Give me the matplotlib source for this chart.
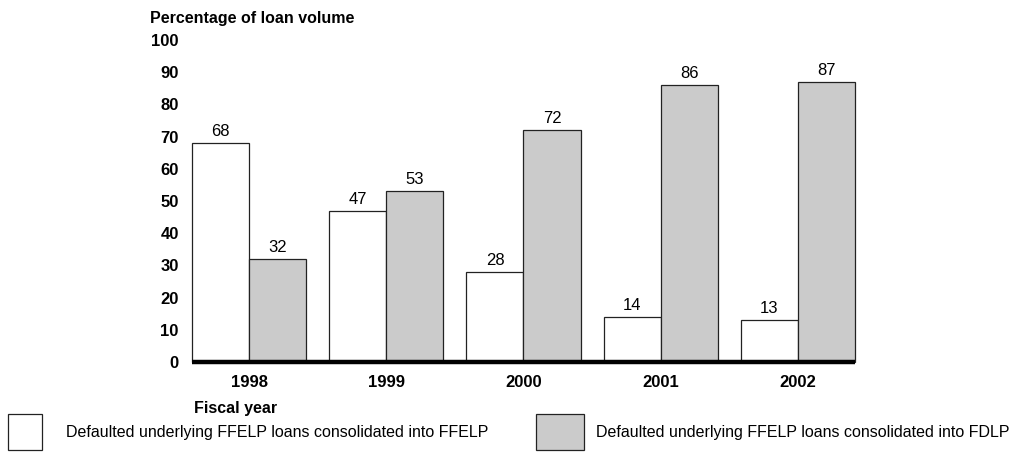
import matplotlib
matplotlib.use("Agg")
import matplotlib.pyplot as plt
import numpy as np
from matplotlib.patches import Rectangle

years = ["1998", "1999", "2000", "2001", "2002"]
ffelp = [68, 47, 28, 14, 13]
fdlp = [32, 53, 72, 86, 87]
yticks = [0, 10, 20, 30, 40, 50, 60, 70, 80, 90, 100]
legend_labels = ["Defaulted underlying FFELP loans consolidated into FFELP",
                 "Defaulted underlying FFELP loans consolidated into FDLP"]

plt.rcParams['font.family'] = ['Liberation Sans', 'DejaVu Sans']

fig = plt.figure(figsize=(10.12, 4.61), dpi=100)
ax = fig.add_axes([192/1012, 1-362/461, (855-192)/1012, (362-40)/461])

x = np.arange(len(years))
w = 0.416
gray = "#cbcbcb"
b1 = ax.bar(x - w/2, ffelp, w, color="white", edgecolor="#222222", linewidth=0.9, zorder=2, clip_on=False)
b2 = ax.bar(x + w/2, fdlp, w, color=gray, edgecolor="#222222", linewidth=0.9, zorder=2, clip_on=False)
for xi, v in zip(x - w/2, ffelp):
    ax.text(xi, v + 1.2, str(v), ha="center", va="bottom", fontsize=12)
for xi, v in zip(x + w/2, fdlp):
    ax.text(xi, v + 1.2, str(v), ha="center", va="bottom", fontsize=12)

ax.set_xlim(-w, len(years) - 1 + w)
ax.set_ylim(0, 100)
ax.set_yticks(yticks)
ax.set_yticklabels([str(t) for t in yticks], fontweight="bold", fontsize=12)
ax.set_xticks(x)
ax.set_xticklabels(years, fontweight="bold", fontsize=12)
ax.tick_params(axis="both", length=0)
ax.tick_params(axis="y", pad=9.5)
ax.tick_params(axis="x", pad=9.5)
for s in ["top", "right", "left"]:
    ax.spines[s].set_visible(False)
ax.spines["bottom"].set_linewidth(3.2)
ax.spines["bottom"].set_zorder(3)
ax.spines["bottom"].set_capstyle("butt")

fig.text(150/1012, 1-18/461, "Percentage of loan volume", fontweight="bold", fontsize=11.5,
         ha="left", va="center")
fig.text(194/1012, 1-408/461, "Fiscal year", fontweight="bold", fontsize=11.5,
         ha="left", va="center")

# legend
fig.patches.append(Rectangle((8/1012, 1-450/461), 34/1012, 36/461, transform=fig.transFigure,
                             facecolor="white", edgecolor="#222222", linewidth=0.9))
fig.text(66/1012, 1-432/461, legend_labels[0], fontsize=11.5, ha="left", va="center")
fig.patches.append(Rectangle((536/1012, 1-450/461), 48/1012, 36/461, transform=fig.transFigure,
                             facecolor=gray, edgecolor="#222222", linewidth=0.9))
fig.text(596/1012, 1-432/461, legend_labels[1], fontsize=11.5, ha="left", va="center")

fig.savefig("out.png", dpi=100)
